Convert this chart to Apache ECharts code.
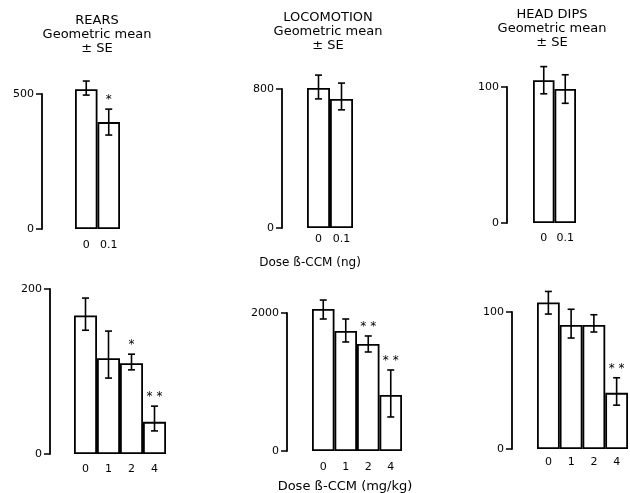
<!DOCTYPE html>
<html>
<head>
<meta charset="utf-8">
<script src="https://cdn.jsdelivr.net/npm/echarts@6/dist/echarts.min.js"></script>
<style>html,body{margin:0;padding:0;background:#fff}#c{width:630px;height:493px}</style>
</head>
<body>
<div id="c"></div>
<script>
// ---- Data ----
const topCats = ['0', '0.1'];
const botCats = ['0', '1', '2', '4'];

const rearsTopMean = [518, 396];
const rearsTopHi = [548, 444];
const rearsTopLo = [496, 348];
const rearsTopSig = ['', '*'];

const locoTopMean = [806, 743];
const locoTopHi = [880, 834];
const locoTopLo = [743, 680];
const locoTopSig = ['', ''];

const dipsTopMean = [105, 98.5];
const dipsTopHi = [115, 109];
const dipsTopLo = [95, 88];
const dipsTopSig = ['', ''];

const rearsBotMean = [168, 116, 110, 39];
const rearsBotHi = [189, 149, 121, 58];
const rearsBotLo = [150, 92, 102, 28];
const rearsBotSig = ['', '', '*', '* *'];

const locoBotMean = [2058, 1739, 1551, 812];
const locoBotHi = [2188, 1913, 1667, 1174];
const locoBotLo = [1913, 1580, 1435, 493];
const locoBotSig = ['', '', '* *', '* *'];

const dipsBotMean = [107, 90.5, 90.5, 41];
const dipsBotHi = [115, 102, 98, 52];
const dipsBotLo = [98.5, 81, 85.4, 32];
const dipsBotSig = ['', '', '', '* *'];

const yMaxes = [500, 800, 100, 200, 2000, 100];

// ---- Layout ----
const FONT = '"DejaVu Sans", sans-serif';
const panels = [
  {left: 75, top: 94, width: 45, height: 135, offset: 33, xm: 11, cats: topCats, mean: rearsTopMean, hi: rearsTopHi, lo: rearsTopLo, sig: rearsTopSig},
  {left: 307, top: 89, width: 46, height: 139, offset: 25, xm: 6, cats: topCats, mean: locoTopMean, hi: locoTopHi, lo: locoTopLo, sig: locoTopSig},
  {left: 533, top: 87, width: 43, height: 136, offset: 26, xm: 10, cats: topCats, mean: dipsTopMean, hi: dipsTopHi, lo: dipsTopLo, sig: dipsTopSig},
  {left: 74, top: 289, width: 92, height: 165, offset: 24, xm: 10, cats: botCats, mean: rearsBotMean, hi: rearsBotHi, lo: rearsBotLo, sig: rearsBotSig},
  {left: 312, top: 313, width: 90, height: 138, offset: 25, xm: 11, cats: botCats, mean: locoBotMean, hi: locoBotHi, lo: locoBotLo, sig: locoBotSig},
  {left: 537, top: 312, width: 91, height: 137, offset: 25, xm: 8, cats: botCats, mean: dipsBotMean, hi: dipsBotHi, lo: dipsBotLo, sig: dipsBotSig}
];

const grid = [], xAxis = [], yAxis = [], series = [];
panels.forEach((p, i) => {
  grid.push({left: p.left, top: p.top, width: p.width, height: p.height, containLabel: false});
  xAxis.push({
    type: 'category', gridIndex: i, data: p.cats,
    axisLine: {show: false}, axisTick: {show: false},
    axisLabel: {interval: 0, hideOverlap: false, margin: p.xm, color: '#000', fontSize: 11, fontFamily: FONT}
  });
  yAxis.push({
    type: 'value', gridIndex: i, min: 0, max: yMaxes[i], interval: yMaxes[i],
    offset: p.offset,
    axisLine: {show: true, lineStyle: {color: '#000', width: 1.8}},
    axisTick: {show: true, length: 6, lineStyle: {color: '#000', width: 1.5}},
    axisLabel: {margin: 8, color: '#000', fontSize: 11, fontFamily: FONT, formatter: v => String(v)},
    splitLine: {show: false}
  });
  series.push({
    type: 'bar', xAxisIndex: i, yAxisIndex: i, data: p.mean,
    barCategoryGap: '0%', clip: false, silent: true,
    itemStyle: {color: '#fff', borderColor: '#000', borderWidth: 1.8}
  });
  const errData = p.cats.map((c, k) => [k, p.lo[k], p.hi[k]]);
  const sig = p.sig;
  series.push({
    type: 'custom', xAxisIndex: i, yAxisIndex: i, data: errData, clip: false, silent: true, z: 5,
    renderItem: function (params, api) {
      const k = api.value(0);
      const lo = api.coord([k, api.value(1)]);
      const hi = api.coord([k, api.value(2)]);
      const cw = 3.5;
      const st = {stroke: '#000', lineWidth: 1.6};
      const children = [
        {type: 'line', shape: {x1: lo[0], y1: lo[1], x2: hi[0], y2: hi[1]}, style: st},
        {type: 'line', shape: {x1: lo[0] - cw, y1: lo[1], x2: lo[0] + cw, y2: lo[1]}, style: st},
        {type: 'line', shape: {x1: hi[0] - cw, y1: hi[1], x2: hi[0] + cw, y2: hi[1]}, style: st}
      ];
      const s = sig[params.dataIndex];
      if (s) {
        children.push({type: 'text', x: hi[0], y: hi[1] - 9,
          style: {text: s, fill: '#000', fontSize: 12, fontFamily: FONT, align: 'center', verticalAlign: 'middle'}});
      }
      return {type: 'group', children: children};
    }
  });
});

const titleLines = [
  {t: 'REARS', x: 97, y: 21, s: 13},
  {t: 'Geometric mean', x: 97, y: 35, s: 13},
  {t: '± SE', x: 97, y: 49, s: 13},
  {t: 'LOCOMOTION', x: 328, y: 18, s: 13},
  {t: 'Geometric mean', x: 328, y: 32, s: 13},
  {t: '± SE', x: 328, y: 46, s: 13},
  {t: 'HEAD DIPS', x: 552, y: 15, s: 13},
  {t: 'Geometric mean', x: 552, y: 29, s: 13},
  {t: '± SE', x: 552, y: 43, s: 13},
  {t: 'Dose ß-CCM (ng)', x: 310, y: 263, s: 12},
  {t: 'Dose ß-CCM (mg/kg)', x: 345, y: 487, s: 13}
];
const graphic = titleLines.map(l => ({
  type: 'text', x: l.x, y: l.y, silent: true,
  style: {text: l.t, fill: '#000', fontSize: l.s, fontFamily: FONT, align: 'center', verticalAlign: 'middle'}
}));

const chart = echarts.init(document.getElementById('c'), null, {renderer: 'canvas'});
chart.setOption({
  animation: false,
  backgroundColor: '#fff',
  grid, xAxis, yAxis, series, graphic
});
</script>
</body>
</html>
